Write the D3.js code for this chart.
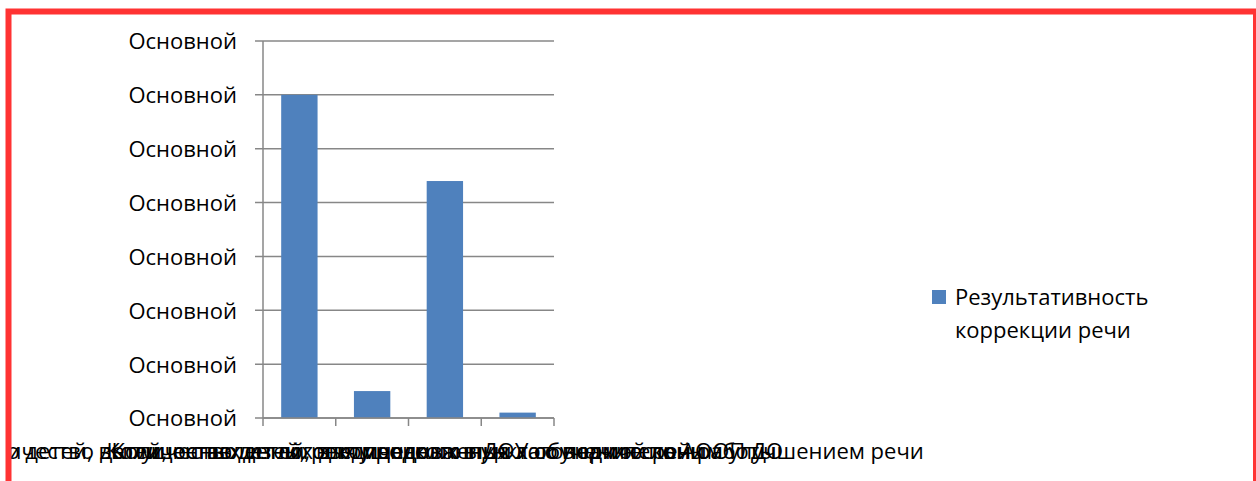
<!DOCTYPE html>
<html>
<head>
<meta charset="utf-8">
<script src="https://cdn.jsdelivr.net/npm/d3@7"></script>
<style>
  body { margin: 0; background: #fff; }
  svg { display: block; font-family: "Open Sans", sans-serif; }
</style>
</head>
<body>
<svg id="chart"></svg>
<script>
const width = 1256, height = 481;

// data
const categories = [
  "Количество детей, выпущенных из логопедического пункта с нормой речи",
  "Количество детей, оставленных для продолжения логопедической работы",
  "Количество детей, рекомендованных к обучению по АООП ДО",
  "Количество детей, выпущенных в ДОУ со значительным улучшением речи"
];
const values = [6, 0.5, 4.4, 0.1];
const yTicks = [0, 1, 2, 3, 4, 5, 6, 7];
const yTickLabels = ["Основной", "Основной", "Основной", "Основной", "Основной", "Основной", "Основной", "Основной"];
const seriesName = ["Результативность", "коррекции речи"];

const svg = d3.select("#chart").attr("width", width).attr("height", height);

const x = d3.scaleBand()
    .domain(categories)
    .range([263, 554])
    .paddingInner(0.5)
    .paddingOuter(0.25);

const y = d3.scaleLinear()
    .domain([0, 7])
    .range([418, 41]);

// clip for the overflowing category labels
svg.append("clipPath").attr("id", "inside")
  .append("rect").attr("x", 9).attr("y", 12).attr("width", 1240).attr("height", 480);

// gridlines (extend past the axis like tick marks)
svg.append("g")
  .selectAll("line")
  .data(yTicks)
  .enter().append("line")
    .attr("x1", 255)
    .attr("x2", 554)
    .attr("y1", d => y(d))
    .attr("y2", d => y(d))
    .attr("stroke", "#878787")
    .attr("stroke-width", 1.5);

// y axis labels
svg.append("g")
  .selectAll("text")
  .data(yTicks)
  .enter().append("text")
    .attr("x", 237)
    .attr("y", d => y(d))
    .attr("dy", "0.38em")
    .attr("text-anchor", "end")
    .attr("font-size", "22px")
    .attr("fill", "#000")
    .text((d, i) => yTickLabels[i]);

// bars
svg.append("g")
  .selectAll("rect")
  .data(values)
  .enter().append("rect")
    .attr("x", (d, i) => x(categories[i]))
    .attr("y", d => y(d))
    .attr("width", x.bandwidth())
    .attr("height", d => y(0) - y(d))
    .attr("fill", "#4f81bd");

// vertical axis line
svg.append("line")
  .attr("x1", 263).attr("x2", 263)
  .attr("y1", y(7)).attr("y2", y(0))
  .attr("stroke", "#878787")
  .attr("stroke-width", 1.5);

// x axis with ticks between categories
const xAxis = svg.append("g").attr("transform", `translate(0,${y(0)})`);
xAxis.append("line")
  .attr("x1", 263).attr("x2", 554)
  .attr("stroke", "#878787").attr("stroke-width", 1.5);
const edges = categories.map(c => x(c) - x.step() * x.paddingInner() / 2);
edges.push(x(categories[categories.length - 1]) + x.bandwidth() + x.step() * x.paddingInner() / 2);
xAxis.selectAll("line.tick")
  .data(edges)
  .enter().append("line")
    .attr("class", "tick")
    .attr("x1", d => d).attr("x2", d => d)
    .attr("y1", 0).attr("y2", 8)
    .attr("stroke", "#878787").attr("stroke-width", 1.5);

// category labels, overlapping as in the source
svg.append("g")
  .attr("clip-path", "url(#inside)")
  .selectAll("text")
  .data(categories)
  .enter().append("text")
    .attr("x", d => x(d) + x.bandwidth() / 2)
    .attr("y", 459)
    .attr("text-anchor", "middle")
    .attr("font-size", "22px")
    .attr("fill", "#000")
    .text(d => d);

// legend
const legend = svg.append("g");
legend.append("rect")
  .attr("x", 932).attr("y", 290)
  .attr("width", 14).attr("height", 14)
  .attr("fill", "#4f81bd");
legend.selectAll("text")
  .data(seriesName)
  .enter().append("text")
    .attr("x", 955)
    .attr("y", (d, i) => 305 + i * 33)
    .attr("font-size", "22px")
    .attr("fill", "#000")
    .text(d => d);

// red frame
svg.append("rect")
  .attr("x", 8.5).attr("y", 11.5)
  .attr("width", 1247.5).attr("height", 520)
  .attr("fill", "none")
  .attr("stroke", "#ff3333")
  .attr("stroke-width", 6);
</script>
</body>
</html>
